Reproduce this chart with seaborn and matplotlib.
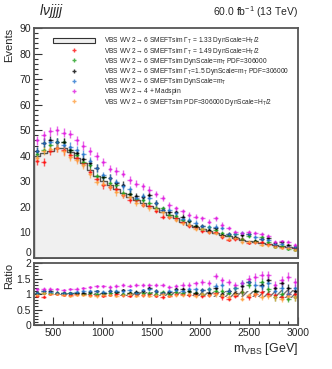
import numpy as np
import pandas as pd
import matplotlib
matplotlib.use("Agg")
import matplotlib.pyplot as plt
import seaborn as sns
from matplotlib.patches import Patch
from matplotlib.lines import Line2D
from matplotlib.ticker import MultipleLocator

# ---------------- data ----------------
bin_lo, bin_hi, n_bins = 300, 3000, 40

nominal = [40, 41, 42, 43, 43, 41.5, 39, 37, 34.5, 32, 30, 28.5, 27, 25.5, 24, 22.5,
           21.5, 20.5, 19.5, 18, 17, 15.5, 14, 13, 12, 11.2, 10.5, 9.8, 9, 8.4, 7.8,
           7.2, 6.7, 6.2, 5.8, 5.3, 4.9, 4.5, 4.1, 3.7]
red = [38.0, 37.7, 42.0, 43.0, 42.1, 40.3, 39.0, 37.0, 33.8, 31.0, 28.5, 27.9, 27.0, 24.7,
       22.8, 22.5, 20.9, 20.5, 18.5, 16.2, 16.2, 15.5, 14.0, 12.6, 12.0, 10.6, 10.3, 10.3,
       8.1, 7.1, 7.4, 7.6, 6.0, 6.2, 6.1, 5.3, 4.7, 4.1, 4.1, 3.7]
green = [40.8, 42.2, 44.1, 45.2, 45.2, 42.3, 40.2, 37.7, 36.2, 32.0, 31.5, 29.4, 28.4, 25.5,
         25.2, 23.2, 22.6, 21.5, 19.5, 19.4, 17.0, 16.3, 14.7, 14.3, 12.6, 11.2, 12.1, 10.8,
         9.9, 8.8, 9.4, 7.6, 8.7, 6.8, 8.1, 6.1, 4.4, 4.5, 3.5, 3.3]
black = [42.0, 45.1, 46.2, 45.2, 45.2, 42.3, 41.0, 38.9, 37.3, 35.2, 31.5, 31.4, 29.2, 28.6,
         25.2, 24.3, 23.7, 24.6, 21.5, 18.9, 17.9, 17.8, 16.1, 14.3, 12.6, 12.5, 11.0, 11.8,
         9.0, 9.2, 8.2, 9.0, 9.4, 6.8, 7.5, 7.7, 5.9, 6.1, 4.9, 4.1]
blue = [42.0, 45.1, 45.4, 45.2, 44.3, 43.6, 42.1, 40.7, 38.0, 35.2, 32.4, 31.4, 29.7, 28.1,
        26.9, 23.6, 24.1, 23.6, 21.5, 18.9, 18.7, 17.4, 15.4, 15.0, 13.8, 12.5, 12.1, 12.3,
        11.7, 9.2, 9.4, 9.7, 9.4, 8.1, 7.3, 7.2, 5.4, 5.4, 4.1, 4.4]
magenta = [46.0, 48.0, 49.5, 50.0, 49.0, 48.5, 46.0, 44.0, 42.0, 40.0, 37.5, 35.0, 34.0, 33.0,
           30.5, 29.0, 28.0, 26.7, 25.0, 23.4, 20.7, 19.4, 18.2, 16.9, 16.2, 15.5, 14.2, 15.5,
           13.0, 11.6, 10.1, 9.7, 10.0, 9.6, 9.3, 8.6, 6.4, 6.5, 6.4, 5.1]
orange = [39.2, 41.8, 42.8, 43.0, 41.7, 39.4, 38.2, 36.3, 32.8, 29.8, 29.1, 27.9, 25.7, 24.7,
          24.0, 21.4, 20.9, 19.5, 19.1, 18.0, 16.2, 15.0, 13.7, 13.0, 11.4, 11.2, 10.2, 9.8,
          8.6, 7.6, 7.8, 6.1, 6.4, 6.2, 5.2, 5.0, 4.4, 3.8, 3.8, 3.3]

labels = [
    "VBS WV 2\u2192 6 SMEFTsim \u0393$_{\\rm T}$ = 1.33 DynScale=H$_{\\rm T}$/2",
    "VBS WV 2\u2192 6 SMEFTsim \u0393$_{\\rm T}$ = 1.49 DynScale=H$_{\\rm T}$/2",
    "VBS WV 2\u2192 6 SMEFTsim DynScale=m$_{\\rm T}$ PDF=306000",
    "VBS WV 2\u2192 6 SMEFTsim \u0393$_{\\rm T}$=1.5 DynScale=m$_{\\rm T}$ PDF=306000",
    "VBS WV 2\u2192 6 SMEFTsim DynScale=m$_{\\rm T}$",
    "VBS WV 2\u2192 4 + Madspin$\\,$",
    "VBS WV 2\u2192 6 SMEFTsim PDF=306000 DynScale=H$_{\\rm T}$/2",
]
series = [red, green, black, blue, magenta, orange]
colors = ["#ff1010", "#20a020", "#000000", "#2a78d0", "#e020e0", "#ffa040"]

# ---------------- style ----------------
sns.set_style("ticks")
plt.rcParams["font.family"] = ["Liberation Sans", "DejaVu Sans"]
plt.rcParams["mathtext.fontset"] = "custom"
plt.rcParams["mathtext.rm"] = "Liberation Sans"
plt.rcParams["mathtext.it"] = "Liberation Sans:italic"
plt.rcParams["mathtext.sf"] = "Liberation Sans"

edges = np.linspace(bin_lo, bin_hi, n_bins + 1)
centers = 0.5 * (edges[:-1] + edges[1:])
half = 0.5 * (edges[1] - edges[0])
nom = np.array(nominal)
df = pd.DataFrame({"m": centers, "w": nom})

fig = plt.figure(figsize=(3.32, 3.69), dpi=100)
ax = fig.add_axes([0.102, 0.301, 0.796, 0.623])
axr = fig.add_axes([0.102, 0.119, 0.796, 0.168])

# nominal histogram
sns.histplot(data=df, x="m", weights="w", bins=list(edges), element="step", fill=True,
             color="#f0f0f0", alpha=1.0, edgecolor="#555555", linewidth=1.0, ax=ax)

for vals, c in zip(series, colors):
    v = np.array(vals)
    err = 0.25 * np.sqrt(v)
    ax.errorbar(centers, v, xerr=half * 0.7, yerr=err, fmt="o", ms=1.0, color=c,
                elinewidth=1.0, alpha=0.7, capsize=0)
    r = v / nom
    axr.errorbar(centers, r, xerr=half * 0.7, yerr=err / nom, fmt="o", ms=1.0, color=c,
                 elinewidth=1.0, alpha=0.7, capsize=0)

nerr = 0.25 * np.sqrt(nom) / nom
axr.fill_between(edges, np.append(1 - nerr, 1 - nerr[-1]), np.append(1 + nerr, 1 + nerr[-1]),
                 step="post", facecolor="none", edgecolor="#777777", hatch="//////",
                 linewidth=0)

for a in (ax, axr):
    a.set_xlim(bin_lo, bin_hi)
    a.xaxis.set_major_locator(MultipleLocator(500))
    a.xaxis.set_minor_locator(MultipleLocator(100))
    a.tick_params(which="both", direction="in", top=False, right=False, labelsize=7.5,
                  width=0.8, color="#333333", pad=2)
    a.tick_params(which="major", length=6)
    a.tick_params(which="minor", length=3)
    for s in a.spines.values():
        s.set_linewidth(1.3)
        s.set_color("#555555")
        s.set_visible(True)

ax.set_ylim(0, 90)
ax.yaxis.set_major_locator(MultipleLocator(10))
ax.yaxis.set_minor_locator(MultipleLocator(2))
ax.set_xticklabels([])
ax.set_xlabel("")
ax.set_ylabel("Events", loc="top", fontsize=8)
ax.yaxis.set_label_coords(-0.075, 1.0)
for t in ax.get_yticklabels():
    if t.get_text() == "0":
        t.set_va("bottom")

axr.set_ylim(0, 2)
axr.yaxis.set_minor_locator(MultipleLocator(0.1))
axr.set_yticks([0, 0.5, 1, 1.5, 2])
axr.set_yticklabels(["0", "0.5", "1", "1.5", "2"])
axr.set_ylabel("Ratio", loc="top", fontsize=8)
axr.yaxis.set_label_coords(-0.075, 1.0)
axr.set_xlabel(r"m$_{\rm VBS}$ [GeV]", loc="right", fontsize=9)
axr.xaxis.set_label_coords(1.0, -0.25)

# legend
handles = [Patch(facecolor="#f0f0f0", edgecolor="#333333", linewidth=0.8)]
for c in colors:
    handles.append(Line2D([], [], color=c, marker="+", ms=3, mew=1.0, lw=0, alpha=0.8))
leg = ax.legend(handles, labels, loc="upper left", bbox_to_anchor=(0.072, 0.968),
                frameon=False, fontsize=4.8, handlelength=6.3, handleheight=0.8,
                labelspacing=-0.12, handletextpad=1.3, borderaxespad=0.0, borderpad=0.0)

fig.text(0.118, 0.945, r"$l\nu jjjj$", fontsize=10, ha="left", va="bottom")
fig.text(0.898, 0.945, r"60.0 fb$^{-1}$ (13 TeV)", fontsize=7.5, ha="right", va="bottom")

fig.savefig("out.png", dpi=100)
